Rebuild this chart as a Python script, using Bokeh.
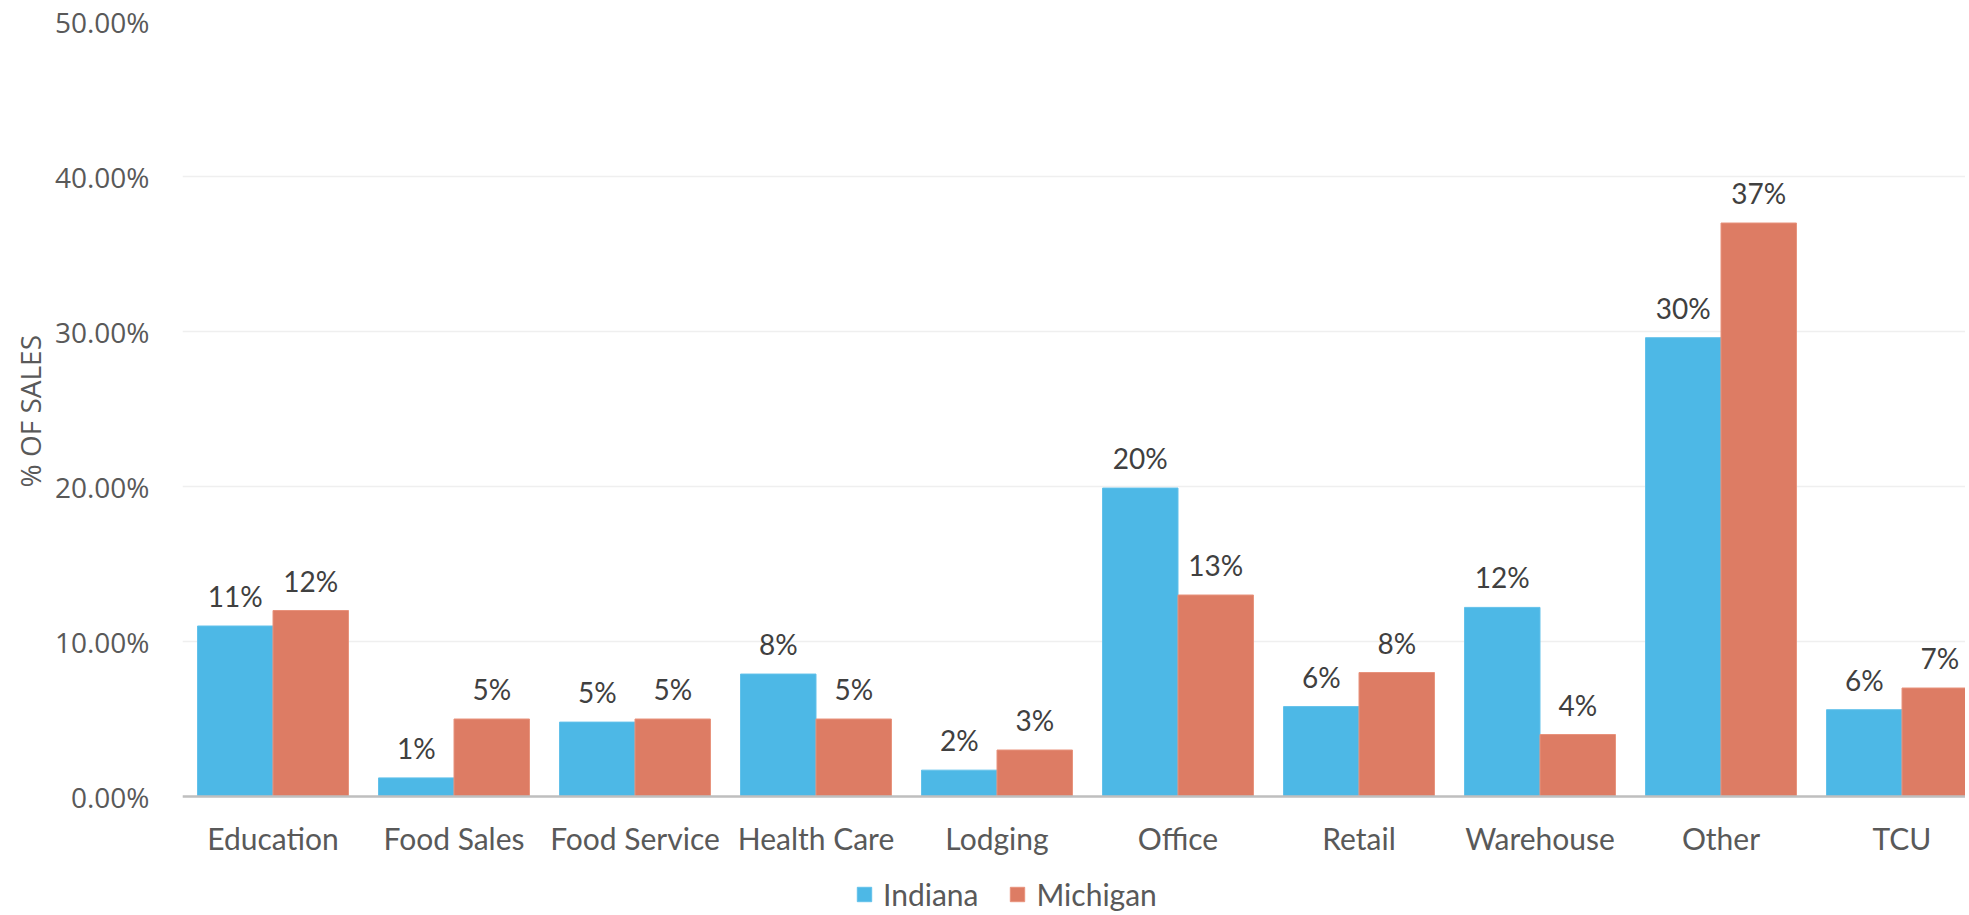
from bokeh.plotting import figure
from bokeh.models import (Range1d, FixedTicker, NumeralTickFormatter, ColumnDataSource,
                          Legend, LegendItem, Title)
from bokeh.transform import dodge
from bokeh.core.properties import value
from bokeh.embed import file_html
from bokeh.resources import INLINE

# ---- data ----
categories = ["Education", "Food Sales", "Food Service", "Health Care", "Lodging",
              "Office", "Retail", "Warehouse", "Other", "TCU"]
indiana = [0.110, 0.012, 0.048, 0.079, 0.017, 0.199, 0.058, 0.122, 0.296, 0.056]
michigan = [0.120, 0.050, 0.050, 0.050, 0.030, 0.130, 0.080, 0.040, 0.370, 0.070]
y_ticks = [0.0, 0.1, 0.2, 0.3, 0.4, 0.5]
series_names = ["Indiana", "Michigan"]
series_cols = ["ind", "mic"]
series_colors = ["#4DB8E6", "#DD7C64"]
series_edges = ["#62C1EA", "#E8927C"]
y_title = "% OF SALES"

# ---- layout constants ----
W, H = 1965, 912
LEFT, TOP = 182, 21
PX_PER_CAT = 181.0       # pixels per category
PX_PER_UNIT = 1550.0     # pixels per 100 %
x_end = (W - LEFT) / PX_PER_CAT
y_top = 0.5
y_start = y_top - (H - TOP) / PX_PER_UNIT
bar_w = 0.417
off = bar_w / 2

pos = [i + 0.5 for i in range(len(categories))]
src = ColumnDataSource(dict(
    x=pos, cat=categories, ind=indiana, mic=michigan,
    ind_lbl=[f"{round(v * 100)}%" for v in indiana],
    mic_lbl=[f"{round(v * 100)}%" for v in michigan],
))

p = figure(width=W, height=H, output_backend="svg", toolbar_location=None,
           x_range=Range1d(0, x_end), y_range=Range1d(y_start, y_top),
           min_border_left=LEFT, min_border_right=0, min_border_top=TOP,
           min_border_bottom=0)
p.outline_line_color = None
p.background_fill_color = "white"
p.border_fill_color = "white"

renderers = []
for col, o, fc, lc in zip(series_cols, (-off, off), series_colors, series_edges):
    r = p.vbar(x=dodge("x", o, range=p.x_range), top=col, bottom=0, width=bar_w,
               source=src, fill_color=fc, line_color=lc, line_width=1)
    renderers.append(r)
    p.text(x=dodge("x", o, range=p.x_range), y=col, text=col + "_lbl", source=src,
           text_font=value("Lato"), text_font_size="28px", text_color="#404040",
           text_align="center", text_baseline="alphabetic", y_offset=-30)

# x axis, pinned at 0 %
p.xaxis.fixed_location = 0
p.xaxis.ticker = FixedTicker(ticks=pos)
p.xaxis.major_label_overrides = {k: c for k, c in zip(pos, categories)}
p.xaxis.axis_line_color = "#BFBFBF"
p.xaxis.axis_line_width = 2.5
p.xaxis.major_tick_line_color = None
p.xaxis.minor_tick_line_color = None
p.xaxis.major_tick_out = 0
p.xaxis.major_tick_in = 0
p.xaxis.major_label_text_font = "Lato"
p.xaxis.major_label_text_font_size = "30px"
p.xaxis.major_label_text_color = "#595959"
p.xaxis.major_label_standoff = 23

# y axis
p.yaxis.ticker = FixedTicker(ticks=y_ticks)
p.yaxis.formatter = NumeralTickFormatter(format="0.00%")
p.yaxis.axis_line_color = None
p.yaxis.major_tick_line_color = None
p.yaxis.minor_tick_line_color = None
p.yaxis.major_tick_out = 0
p.yaxis.major_tick_in = 0
p.yaxis.major_label_text_font = "Open Sans"
p.yaxis.major_label_text_font_size = "28px"
p.yaxis.major_label_text_color = "#595959"
p.yaxis.major_label_standoff = 33

# y axis title, centred on the 0-50 % span (frame runs below 0 for labels/legend)
p.add_layout(Title(text=y_title, align="left", offset=425, standoff=6,
                   text_font="Open Sans", text_font_size="28px",
                   text_font_style="normal", text_color="#595959"), "left")

p.xgrid.visible = False
p.ygrid.ticker = FixedTicker(ticks=y_ticks)
p.ygrid.grid_line_color = "#EFEFEF"
p.ygrid.grid_line_width = 1.5

legend = Legend(items=[LegendItem(label=n, renderers=[r])
                       for n, r in zip(series_names, renderers)],
                orientation="horizontal", location=(673, 0),
                label_text_font="Lato", label_text_font_size="30px",
                label_text_color="#595959", glyph_width=18, glyph_height=18,
                label_standoff=10, spacing=30, padding=0, margin=0,
                border_line_color=None, background_fill_alpha=0)
p.add_layout(legend)

open("out.html", "w").write(file_html(p, INLINE))
